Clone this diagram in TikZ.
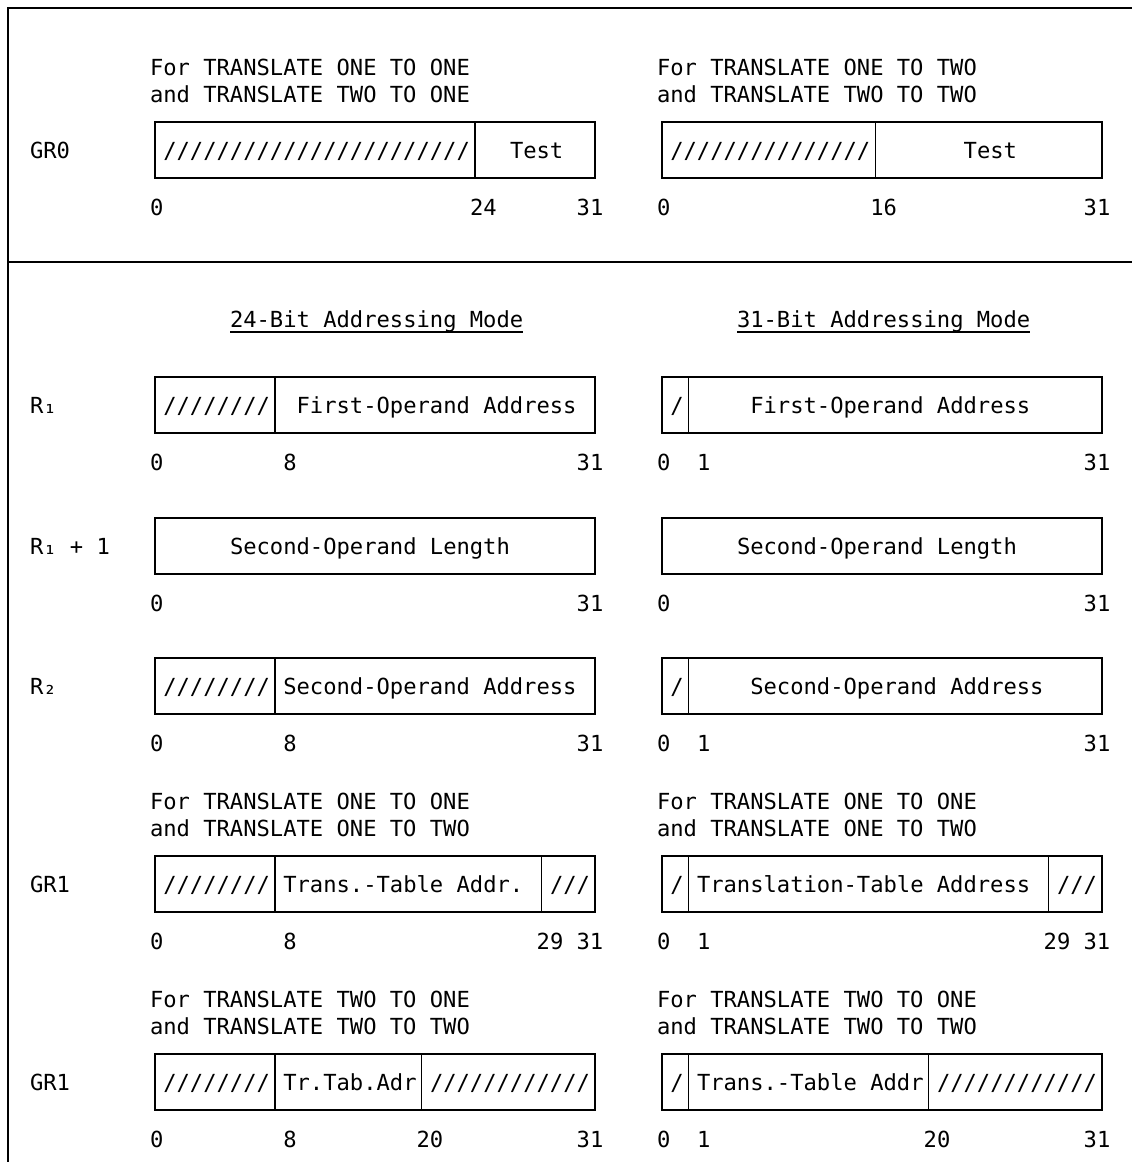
\documentclass[tikz,border=0pt]{standalone}
\usepackage{fontspec}
\setmonofont{DejaVu Sans Mono}
\begin{document}
\begin{tikzpicture}[x=1pt,y=-1pt,
  every node/.style={inner sep=0pt, outer sep=0pt, anchor=base west,
    font=\ttfamily\fontsize{22.14pt}{26pt}\selectfont},
  regline/.style={line width=1.5pt, line cap=rect},
  frameline/.style={line width=2pt}]
\def\cw{13.3333}
\def\LO{150}
\def\RO{657}
\newcommand\regrect[2]{\draw[regline] ({#1+\cw*0.375},#2) rectangle ({#1+\cw*33.375},{#2+56});}
\newcommand\regdiv[3]{\draw[regline] ({#1+\cw*(#3+0.375)},#2) -- ({#1+\cw*(#3+0.375)},{#2+56});}
\newcommand\txt[5]{\node (#1) at ({#2+\cw*#3},#4) {#5};}
\useasboundingbox (0,0) rectangle (1132,1162);
\fill[white] (0,0) rectangle (1132,1162);
% frame
\draw[frameline] (1132,8) -- (8,8) -- (8,1162);
\draw[frameline] (8,262) -- (1132,262);

% ---------------- GR0 ----------------
\txt{t1a}{\LO}{0}{75}{For TRANSLATE ONE TO ONE}
\txt{t1b}{\LO}{0}{102}{and TRANSLATE TWO TO ONE}
\txt{t2a}{\RO}{0}{75}{For TRANSLATE ONE TO TWO}
\txt{t2b}{\RO}{0}{102}{and TRANSLATE TWO TO TWO}
\txt{lgr0}{\LO}{-9}{158}{GR0}
\regrect{\LO}{122}\regdiv{\LO}{122}{24}
\txt{g0ls}{\LO}{1}{158}{///////////////////////}
\txt{g0lt}{\LO}{27}{158}{Test}
\regrect{\RO}{122}\regdiv{\RO}{122}{16}
\txt{g0rs}{\RO}{1}{158}{///////////////}
\txt{g0rt}{\RO}{23}{158}{Test}
\txt{g0b1}{\LO}{0}{215}{0}
\txt{g0b2}{\LO}{24}{215}{24}
\txt{g0b3}{\LO}{32}{215}{31}
\txt{g0b4}{\RO}{0}{215}{0}
\txt{g0b5}{\RO}{16}{215}{16}
\txt{g0b6}{\RO}{32}{215}{31}

% ---------------- headers ----------------
\txt{h1}{\LO}{6}{327}{24-Bit Addressing Mode}
\txt{h2}{\RO}{6}{327}{31-Bit Addressing Mode}
\draw[line width=1.6pt] ([yshift=-5pt]h1.base west) -- ([yshift=-5pt]h1.base east);
\draw[line width=1.6pt] ([yshift=-5pt]h2.base west) -- ([yshift=-5pt]h2.base east);

% ---------------- R1 ----------------
\txt{lr1}{\LO}{-9}{413}{R₁}
\regrect{\LO}{377}\regdiv{\LO}{377}{9}
\txt{r1ls}{\LO}{1}{413}{////////}
\txt{r1lt}{\LO}{11}{413}{First-Operand Address}
\regrect{\RO}{377}\regdiv{\RO}{377}{2}
\txt{r1rs}{\RO}{1}{413}{/}
\txt{r1rt}{\RO}{7}{413}{First-Operand Address}
\txt{r1b1}{\LO}{0}{470}{0}
\txt{r1b2}{\LO}{10}{470}{8}
\txt{r1b3}{\LO}{32}{470}{31}
\txt{r1b4}{\RO}{0}{470}{0}
\txt{r1b5}{\RO}{3}{470}{1}
\txt{r1b6}{\RO}{32}{470}{31}

% ---------------- R1 + 1 ----------------
\txt{lr1p}{\LO}{-9}{554}{R₁ + 1}
\regrect{\LO}{518}
\txt{r1plt}{\LO}{6}{554}{Second-Operand Length}
\regrect{\RO}{518}
\txt{r1prt}{\RO}{6}{554}{Second-Operand Length}
\txt{r1pb1}{\LO}{0}{611}{0}
\txt{r1pb2}{\LO}{32}{611}{31}
\txt{r1pb3}{\RO}{0}{611}{0}
\txt{r1pb4}{\RO}{32}{611}{31}

% ---------------- R2 ----------------
\txt{lr2}{\LO}{-9}{694}{R₂}
\regrect{\LO}{658}\regdiv{\LO}{658}{9}
\txt{r2ls}{\LO}{1}{694}{////////}
\txt{r2lt}{\LO}{10}{694}{Second-Operand Address}
\regrect{\RO}{658}\regdiv{\RO}{658}{2}
\txt{r2rs}{\RO}{1}{694}{/}
\txt{r2rt}{\RO}{7}{694}{Second-Operand Address}
\txt{r2b1}{\LO}{0}{751}{0}
\txt{r2b2}{\LO}{10}{751}{8}
\txt{r2b3}{\LO}{32}{751}{31}
\txt{r2b4}{\RO}{0}{751}{0}
\txt{r2b5}{\RO}{3}{751}{1}
\txt{r2b6}{\RO}{32}{751}{31}

% ---------------- GR1 (first) ----------------
\txt{t3a}{\LO}{0}{809}{For TRANSLATE ONE TO ONE}
\txt{t3b}{\LO}{0}{836}{and TRANSLATE ONE TO TWO}
\txt{t4a}{\RO}{0}{809}{For TRANSLATE ONE TO ONE}
\txt{t4b}{\RO}{0}{836}{and TRANSLATE ONE TO TWO}
\txt{lgr1a}{\LO}{-9}{892}{GR1}
\regrect{\LO}{856}\regdiv{\LO}{856}{9}\regdiv{\LO}{856}{29}
\txt{g1als}{\LO}{1}{892}{////////}
\txt{g1alt}{\LO}{10}{892}{Trans.-Table Addr.}
\txt{g1alu}{\LO}{30}{892}{///}
\regrect{\RO}{856}\regdiv{\RO}{856}{2}\regdiv{\RO}{856}{29}
\txt{g1ars}{\RO}{1}{892}{/}
\txt{g1art}{\RO}{3}{892}{Translation-Table Address}
\txt{g1aru}{\RO}{30}{892}{///}
\txt{g1ab1}{\LO}{0}{949}{0}
\txt{g1ab2}{\LO}{10}{949}{8}
\txt{g1ab3}{\LO}{29}{949}{29 31}
\txt{g1ab4}{\RO}{0}{949}{0}
\txt{g1ab5}{\RO}{3}{949}{1}
\txt{g1ab6}{\RO}{29}{949}{29 31}

% ---------------- GR1 (second) ----------------
\txt{t5a}{\LO}{0}{1007}{For TRANSLATE TWO TO ONE}
\txt{t5b}{\LO}{0}{1034}{and TRANSLATE TWO TO TWO}
\txt{t6a}{\RO}{0}{1007}{For TRANSLATE TWO TO ONE}
\txt{t6b}{\RO}{0}{1034}{and TRANSLATE TWO TO TWO}
\txt{lgr1b}{\LO}{-9}{1090}{GR1}
\regrect{\LO}{1054}\regdiv{\LO}{1054}{9}\regdiv{\LO}{1054}{20}
\txt{g1bls}{\LO}{1}{1090}{////////}
\txt{g1blt}{\LO}{10}{1090}{Tr.Tab.Adr}
\txt{g1blu}{\LO}{21}{1090}{////////////}
\regrect{\RO}{1054}\regdiv{\RO}{1054}{2}\regdiv{\RO}{1054}{20}
\txt{g1brs}{\RO}{1}{1090}{/}
\txt{g1brt}{\RO}{3}{1090}{Trans.-Table Addr}
\txt{g1bru}{\RO}{21}{1090}{////////////}
\txt{g1bb1}{\LO}{0}{1147}{0}
\txt{g1bb2}{\LO}{10}{1147}{8}
\txt{g1bb3}{\LO}{20}{1147}{20}
\txt{g1bb4}{\LO}{32}{1147}{31}
\txt{g1bb5}{\RO}{0}{1147}{0}
\txt{g1bb6}{\RO}{3}{1147}{1}
\txt{g1bb7}{\RO}{20}{1147}{20}
\txt{g1bb8}{\RO}{32}{1147}{31}
\end{tikzpicture}
\end{document}
